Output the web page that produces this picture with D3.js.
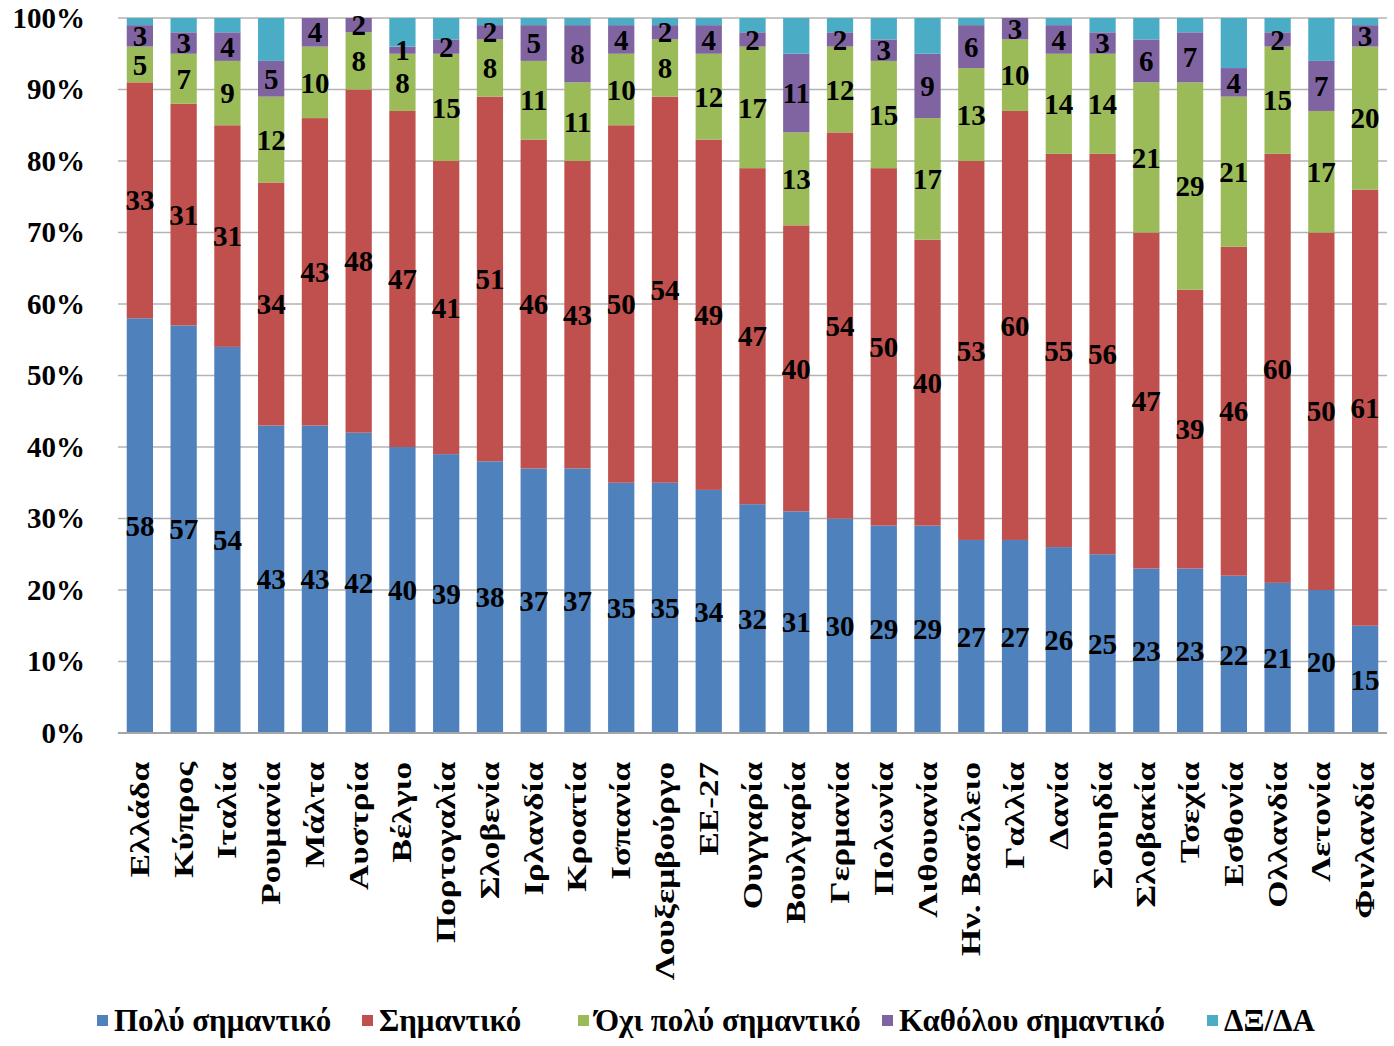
<!DOCTYPE html>
<html>
<head>
<meta charset="utf-8">
<script src="https://cdn.jsdelivr.net/npm/d3@7"></script>
<style>
  body { margin: 0; background: #fff; }
  text { font-family: "Liberation Serif", "Times New Roman", serif; font-weight: bold; }
</style>
</head>
<body>
<script>
// categories (countries), sorted as in the source
var countries = ["Ελλάδα", "Κύπρος", "Ιταλία", "Ρουμανία", "Μάλτα", "Αυστρία", "Βέλγιο",
  "Πορτογαλία", "Σλοβενία", "Ιρλανδία", "Κροατία", "Ισπανία", "Λουξεμβούργο", "ΕΕ-27",
  "Ουγγαρία", "Βουλγαρία", "Γερμανία", "Πολωνία", "Λιθουανία", "Ην. Βασίλειο", "Γαλλία",
  "Δανία", "Σουηδία", "Σλοβακία", "Τσεχία", "Εσθονία", "Ολλανδία", "Λετονία", "Φινλανδία"];

var veryImportant = [58, 57, 54, 43, 43, 42, 40, 39, 38, 37, 37, 35, 35, 34, 32, 31, 30, 29, 29, 27, 27, 26, 25, 23, 23, 22, 21, 20, 15];
var important     = [33, 31, 31, 34, 43, 48, 47, 41, 51, 46, 43, 50, 54, 49, 47, 40, 54, 50, 40, 53, 60, 55, 56, 47, 39, 46, 60, 50, 61];
var notVery       = [5, 7, 9, 12, 10, 8, 8, 15, 8, 11, 11, 10, 8, 12, 17, 13, 12, 15, 17, 13, 10, 14, 14, 21, 29, 21, 15, 17, 20];
var notAtAll      = [3, 3, 4, 5, 4, 2, 1, 2, 2, 5, 8, 4, 2, 4, 2, 11, 2, 3, 9, 6, 3, 4, 3, 6, 7, 4, 2, 7, 3];
var dontKnow      = [1, 2, 2, 6, 0, 0, 4, 3, 1, 1, 1, 1, 1, 1, 2, 5, 2, 3, 5, 1, 0, 1, 2, 3, 2, 7, 2, 6, 1];

var seriesNames = ["Πολύ σημαντικό", "Σημαντικό", "Όχι πολύ σημαντικό", "Καθόλου σημαντικό", "ΔΞ/ΔΑ"];
var seriesColors = ["#4F81BD", "#C0504D", "#9BBB59", "#8064A2", "#4BACC6"];
var yTicks = [0, 0.1, 0.2, 0.3, 0.4, 0.5, 0.6, 0.7, 0.8, 0.9, 1];

var w = 1394, h = 1046;
var plotLeft = 118, plotRight = 1387, plotTop = 18, plotBottom = 733;

var svg = d3.select("body").append("svg")
    .attr("width", w)
    .attr("height", h);

// build rows for the stack
var keys = ["k0", "k1", "k2", "k3", "k4"];
var allSeries = [veryImportant, important, notVery, notAtAll, dontKnow];
var rows = countries.map(function(c, i) {
  var r = { country: c };
  var total = 0;
  allSeries.forEach(function(s) { total += s[i]; });
  keys.forEach(function(k, j) { r[k] = allSeries[j][i] / total; r["v" + j] = allSeries[j][i]; });
  return r;
});

var stacked = d3.stack().keys(keys)(rows);

var x = d3.scaleBand()
    .domain(countries)
    .range([plotLeft, plotRight])
    .paddingInner(0.4)
    .paddingOuter(0.2);

var y = d3.scaleLinear()
    .domain([0, 1])
    .range([plotBottom, plotTop]);

// gridlines
svg.append("g")
  .selectAll("line")
  .data(yTicks.slice(1))
  .enter().append("line")
    .attr("x1", plotLeft)
    .attr("x2", plotRight)
    .attr("y1", function(d) { return y(d); })
    .attr("y2", function(d) { return y(d); })
    .attr("stroke", "#b3b3b3")
    .attr("stroke-width", 1.5);

// y axis labels
var yAxis = svg.append("g")
    .attr("transform", "translate(" + plotLeft + ",0)")
    .call(d3.axisLeft(y)
      .tickValues(yTicks)
      .tickFormat(d3.format(".0%"))
      .tickSize(0)
      .tickPadding(33));
yAxis.select(".domain").remove();
yAxis.selectAll("text")
    .attr("font-size", 29)
    .attr("font-family", "Liberation Serif")
    .attr("font-weight", "bold")
    .attr("fill", "#000");

// bars
var layer = svg.append("g")
  .selectAll("g")
  .data(stacked)
  .enter().append("g")
    .attr("fill", function(d, i) { return seriesColors[i]; });

layer.selectAll("rect")
  .data(function(d) { return d; })
  .enter().append("rect")
    .attr("x", function(d) { return x(d.data.country); })
    .attr("width", x.bandwidth())
    .attr("y", function(d) { return y(d[1]); })
    .attr("height", function(d) { return y(d[0]) - y(d[1]); });

// baseline
svg.append("line")
    .attr("x1", plotLeft)
    .attr("x2", plotRight)
    .attr("y1", plotBottom)
    .attr("y2", plotBottom)
    .attr("stroke", "#a6a6a6")
    .attr("stroke-width", 2);

// data labels (not for the last series)
var labels = svg.append("g");
stacked.forEach(function(s, j) {
  if (j == 4) return;
  labels.selectAll(".lab" + j)
    .data(s)
    .enter().append("text")
      .attr("class", "lab" + j)
      .attr("x", function(d) { return x(d.data.country) + x.bandwidth() / 2; })
      .attr("y", function(d) { return y((d[0] + d[1]) / 2); })
      .attr("dy", "0.35em")
      .attr("text-anchor", "middle")
      .attr("font-size", 29)
      .attr("fill", "#000")
      .text(function(d) { return d.data["v" + j]; });
});

// x axis labels, rotated and stretched along the text
svg.append("g")
  .selectAll("text")
  .data(countries)
  .enter().append("text")
    .attr("transform", function(d) {
      return "translate(" + (x(d) + x.bandwidth() / 2 + 9) + "," + 762 + ") rotate(-90) scale(1.3,1)";
    })
    .attr("text-anchor", "end")
    .attr("font-size", 27)
    .attr("fill", "#000")
    .text(function(d) { return d; });

// legend
var legendX = [97, 362, 578, 882, 1207];
var legend = svg.append("g")
  .selectAll("g")
  .data(seriesNames)
  .enter().append("g")
    .attr("transform", function(d, i) { return "translate(" + legendX[i] + ",1015)"; });

legend.append("rect")
    .attr("width", 11)
    .attr("height", 11)
    .attr("fill", function(d, i) { return seriesColors[i]; });

legend.append("text")
    .attr("x", 17)
    .attr("y", 16)
    .attr("font-size", 31)
    .attr("fill", "#000")
    .text(function(d) { return d; });
</script>
</body>
</html>
